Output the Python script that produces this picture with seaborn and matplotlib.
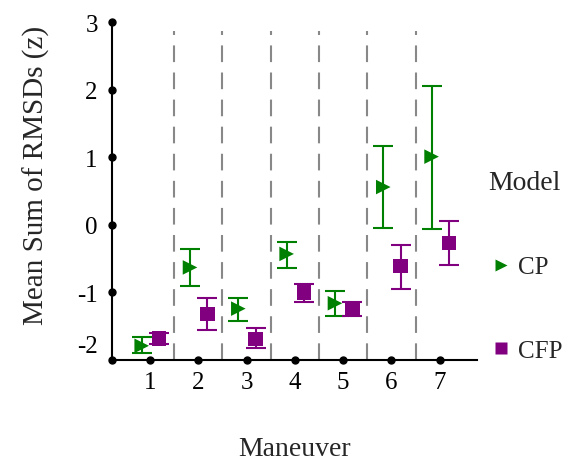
import matplotlib
matplotlib.use('Agg')
import matplotlib.pyplot as plt
import matplotlib.transforms as mtransforms
import numpy as np
import pandas as pd
import seaborn as sns

sns.set_theme(style='white')
plt.rcParams['font.family'] = ['Liberation Serif', 'DejaVu Serif']
plt.rcParams['axes.unicode_minus'] = False

maneuver = [1, 2, 3, 4, 5, 6, 7]
models = ['CP', 'CFP']

cp_mean = [-1.79, -0.63, -1.24, -0.43, -1.16, 0.56, 1.01]
cp_low = [-1.90, -0.90, -1.43, -0.64, -1.35, -0.04, -0.06]
cp_high = [-1.66, -0.35, -1.08, -0.25, -0.98, 1.17, 2.06]

cfp_mean = [-1.68, -1.32, -1.69, -1.00, -1.24, -0.61, -0.27]
cfp_low = [-1.77, -1.56, -1.82, -1.14, -1.35, -0.95, -0.59]
cfp_high = [-1.60, -1.08, -1.53, -0.88, -1.14, -0.30, 0.05]

colors = {'CP': '#008000', 'CFP': '#800080'}
markers = {'CP': '>', 'CFP': 's'}
offsets = {'CP': -0.17, 'CFP': 0.19}

rows = []
for m, mean, lo, hi in [('CP', cp_mean, cp_low, cp_high), ('CFP', cfp_mean, cfp_low, cfp_high)]:
    for i, x in enumerate(maneuver):
        rows.append([x + offsets[m], x, m, mean[i], lo[i], hi[i]])
df = pd.DataFrame(rows, columns=['xpos', 'Maneuver', 'Model', 'z', 'lo', 'hi'])

fig = plt.figure(figsize=(5.79, 4.64), dpi=100)
ax = fig.add_axes([0.193, 0.222, 0.630, 0.728])

# separators between maneuvers
for b in np.arange(1.5, 7, 1):
    ax.plot([b, b], [-2, 2.87], color='#888888', lw=1.5, ls=(0, (8, 5)), zorder=0)

for m in models:
    d = df[df.Model == m]
    ax.errorbar(d.xpos, d.z, yerr=[d.z - d.lo, d.hi - d.z], fmt='none',
                ecolor=colors[m], elinewidth=1.5, capsize=7.5, capthick=1.5, zorder=2)

sns.scatterplot(data=df, x='xpos', y='z', hue='Model', style='Model',
                palette=colors, markers=markers, s=110, edgecolor='none',
                ax=ax, zorder=3)

ax.set_xlim(0.21, 7.76)
ax.set_ylim(-2, 3)
ax.set_xticks(maneuver)
ax.set_yticks([-2, -1, 0, 1, 2, 3])
ax.tick_params(length=0, labelsize=18, colors='black')
ax.tick_params(axis='y', pad=10)
ax.tick_params(axis='x', pad=8)
for s in ['top', 'right']:
    ax.spines[s].set_visible(False)
for s in ['left', 'bottom']:
    ax.spines[s].set_color('black')
    ax.spines[s].set_linewidth(1.5)

# dot-style ticks
ax.plot(np.zeros(6), ax.get_yticks(), 'o', color='black', ms=5,
        clip_on=False, transform=ax.get_yaxis_transform(), zorder=5)
ax.plot(maneuver, np.zeros(7), 'o', color='black', ms=5,
        clip_on=False, transform=ax.get_xaxis_transform(), zorder=5)

lab = ax.get_yticklabels()[0]
lab.set_transform(lab.get_transform() + mtransforms.ScaledTranslation(0, 12 / 72, fig.dpi_scale_trans))

ax.set_xlabel('Maneuver', fontsize=20, labelpad=31)
ax.set_ylabel('Mean Sum of RMSDs (z)', fontsize=21)
ax.yaxis.set_label_coords(-0.17, 0.55)

handles, labels = ax.get_legend_handles_labels()
ax.legend_.remove()
fig.legend(handles, labels, title='Model', loc='center left',
           bbox_to_anchor=(0.80, 0.425), frameon=False, fontsize=18,
           title_fontsize=20, labelspacing=2.45, markerscale=0.8,
           handletextpad=0.1, handlelength=1.2)

fig.savefig('out.png', dpi=100)
